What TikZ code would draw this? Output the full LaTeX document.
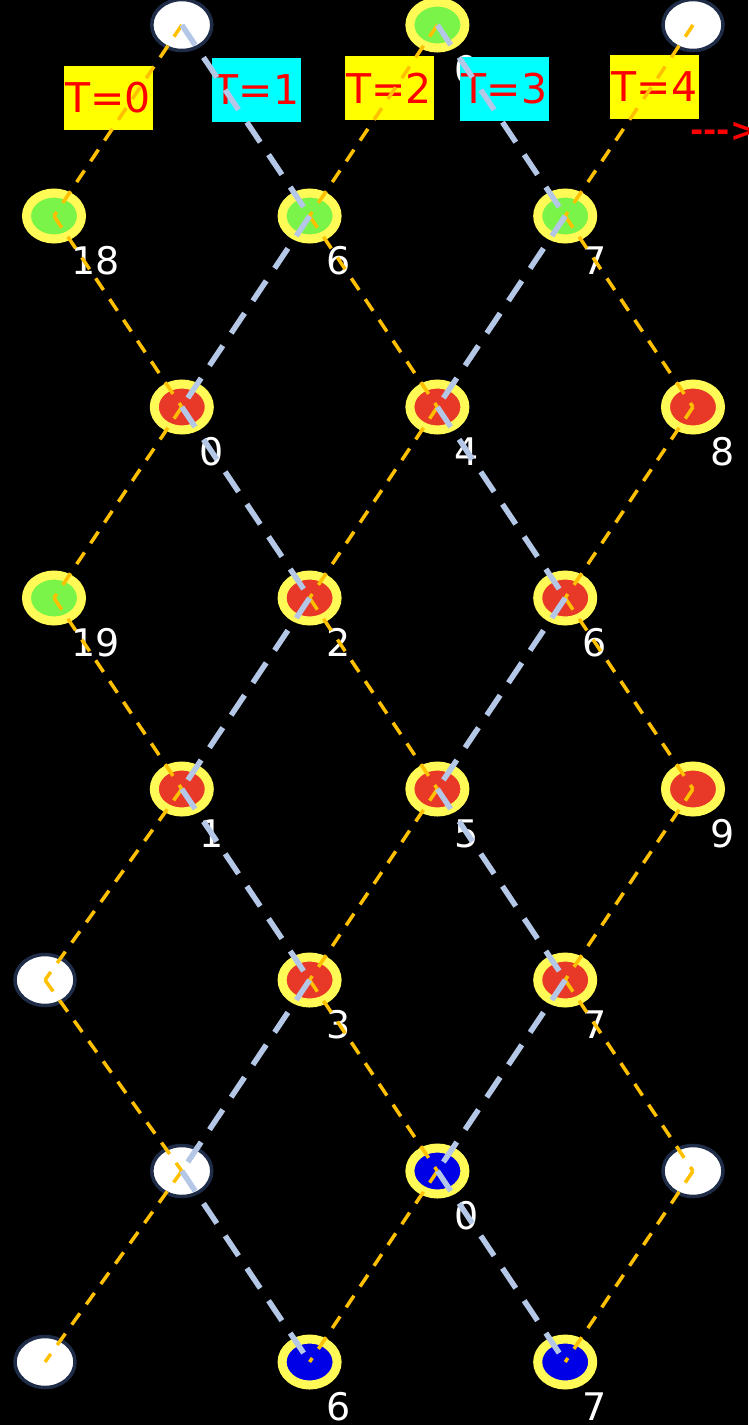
\documentclass[tikz,border=0pt]{standalone}
\usepackage{fontspec}
\usetikzlibrary{shapes.geometric,calc}
\newfontfamily\djv{DejaVu Sans}

\definecolor{ringyellow}{RGB}{255,250,85}
\definecolor{leafgreen}{RGB}{122,244,72}
\definecolor{stonered}{RGB}{232,56,40}
\definecolor{deepblue}{RGB}{0,0,230}
\definecolor{navyrim}{RGB}{30,44,72}
\definecolor{amber}{RGB}{255,192,0}
\definecolor{steel}{RGB}{180,199,231}
\definecolor{tagyellow}{RGB}{255,255,0}
\definecolor{tagcyan}{RGB}{0,255,255}
\definecolor{tagred}{RGB}{255,0,0}

\tikzset{
  ring/.style={ellipse, inner sep=0pt, minimum width=55pt, minimum height=46pt,
    draw=ringyellow, line width=9pt},
  gnode/.style={ring, fill=leafgreen},
  rnode/.style={ring, fill=stonered},
  bnode/.style={ring, fill=deepblue},
  wnode/.style={ellipse, inner sep=0pt, minimum width=60pt, minimum height=51pt,
    draw=navyrim, line width=3.5pt, fill=white},
  num/.style={anchor=base west, inner sep=0pt, text=white,
    font=\djv\fontsize{38}{40}\selectfont},
  tbox/.style={inner sep=0pt, minimum width=89pt, minimum height=64pt,
    text=tagred, font=\djv\fontsize{41}{44}\selectfont},
  oline/.style={draw=amber, line width=3.5pt, dash pattern=on 14pt off 11pt},
  bline/.style={draw=steel, line width=5.5pt, dash pattern=on 24pt off 15pt},
}

\begin{document}
\begin{tikzpicture}[x=1pt, y=-1pt]
\fill[black] (0,0) rectangle (748,1425);
\useasboundingbox (0,0) rectangle (748,1425);

% lattice nodes
\foreach \nm/\px/\py/\st in {
  n01/181.8/25/wnode, n03/437.4/25/gnode, n05/693/25/wnode,
  n10/54/216/gnode, n12/309.6/216/gnode, n14/565.2/216/gnode,
  n21/181.8/407/rnode, n23/437.4/407/rnode, n25/693/407/rnode,
  n30/54/598/gnode, n32/309.6/598/rnode, n34/565.2/598/rnode,
  n41/181.8/789/rnode, n43/437.4/789/rnode, n45/693/789/rnode,
  n50/45/980/wnode, n52/309.6/980/rnode, n54/565.2/980/rnode,
  n61/181.8/1171/wnode, n63/437.4/1171/bnode, n65/693/1171/wnode,
  n70/45/1362/wnode, n72/309.6/1362/bnode, n74/565.2/1362/bnode}
  \node[\st] (\nm) at (\px,\py) {};

% values beside the coloured nodes
\foreach \nm/\lb in {
  n03/0, n10/18, n12/6, n14/7, n21/0, n23/4, n25/8,
  n30/19, n32/2, n34/6, n41/1, n43/5, n45/9,
  n52/3, n54/7, n63/0, n72/6, n74/7}
  \node[num] (v\nm) at ($(\nm.center)+(17,58)$) {\lb};

% time step tags
\node[tbox, fill=tagyellow] (t0) at (108,98) {T=0};
\node[tbox, fill=tagcyan]   (t1) at (256.5,90) {T=1};
\node[tbox, fill=tagyellow] (t2) at (389,88) {T=2};
\node[tbox, fill=tagcyan]   (t3) at (504.5,89) {T=3};
\node[tbox, fill=tagyellow] (t4) at (654.5,87) {T=4};

% amber links
\foreach \a/\b in {
  n01/n10, n03/n12, n05/n14, n10/n21, n12/n23, n14/n25,
  n21/n30, n23/n32, n25/n34, n30/n41, n32/n43, n34/n45,
  n41/n50, n43/n52, n45/n54, n50/n61, n52/n63, n54/n65,
  n61/n70, n63/n72, n65/n74}
  \draw[oline] (\a.center) -- (\b.center);

% steel links
\foreach \a/\b in {
  n01/n12, n03/n14, n12/n21, n14/n23, n21/n32, n23/n34,
  n32/n41, n34/n43, n41/n52, n43/n54, n52/n61, n54/n63,
  n61/n72, n63/n74}
  \draw[bline] (\a.center) -- (\b.center);

% direction marker
\node[anchor=base west, inner sep=0pt, text=tagred,
  font=\djv\bfseries\fontsize{32}{34}\selectfont] (arr) at (690,141) {-{}-{}->};
\end{tikzpicture}
\end{document}
